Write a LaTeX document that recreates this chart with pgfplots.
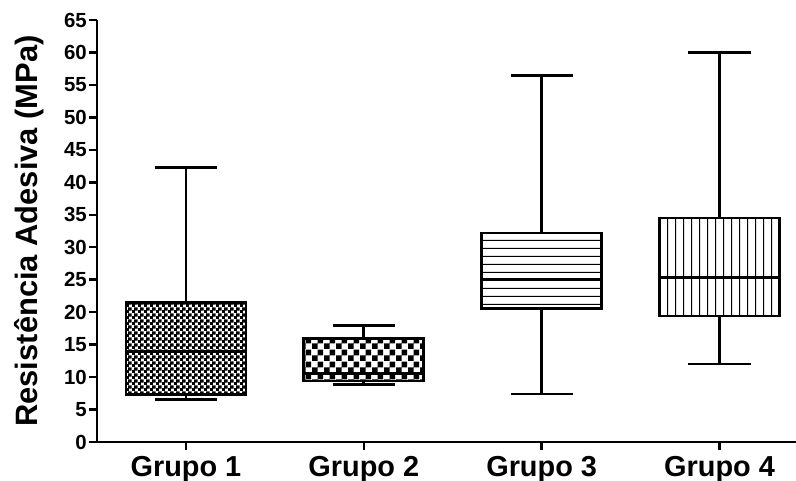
\documentclass[border=0pt]{standalone}
\usepackage{fontspec}
\setmainfont{Liberation Sans}
\usepackage{pgfplots}
\pgfplotsset{compat=1.18}
\usetikzlibrary{patterns}

\pgfdeclarepatternformonly{chkfine}{\pgfpointorigin}{\pgfqpoint{6bp}{6bp}}{\pgfqpoint{6bp}{6bp}}{%
  \pgfpathrectangle{\pgfqpoint{-0.4bp}{-0.4bp}}{\pgfqpoint{3.8bp}{3.8bp}}%
  \pgfpathrectangle{\pgfqpoint{2.6bp}{2.6bp}}{\pgfqpoint{3.8bp}{3.8bp}}%
  \pgfusepath{fill}}
\pgfdeclarepatternformonly{chkcoarse}{\pgfpointorigin}{\pgfqpoint{12bp}{12bp}}{\pgfqpoint{12bp}{12bp}}{%
  \pgfpathrectangle{\pgfpointorigin}{\pgfqpoint{6bp}{6bp}}%
  \pgfpathrectangle{\pgfqpoint{6bp}{6bp}}{\pgfqpoint{6bp}{6bp}}%
  \pgfusepath{fill}}
\pgfdeclarepatternformonly{hlines}{\pgfpointorigin}{\pgfqpoint{20bp}{7.5bp}}{\pgfqpoint{20bp}{7.5bp}}{%
  \pgfpathrectangle{\pgfqpoint{-1bp}{3.2bp}}{\pgfqpoint{22bp}{1.1bp}}%
  \pgfusepath{fill}}
\pgfdeclarepatternformonly{vlines}{\pgfpointorigin}{\pgfqpoint{8bp}{20bp}}{\pgfqpoint{8bp}{20bp}}{%
  \pgfpathrectangle{\pgfqpoint{3.4bp}{-1bp}}{\pgfqpoint{1.2bp}{22bp}}%
  \pgfusepath{fill}}

\pgfplotsset{
  boxln/.style={draw=black, line width=2.8bp, mark=none, line join=miter},
  whisk/.style={draw=black, line width=2.8bp, mark=none, line cap=butt},
}

\begin{document}
\begin{tikzpicture}
\begin{axis}[name=ax,
  scale only axis, width=699bp, height=422bp,
  xmin=0.5, xmax=4.43, ymin=0, ymax=65,
  axis lines=left,
  axis line style={-, line width=2.8bp},
  xtick={1,2,3,4},
  xticklabels={Grupo 1,Grupo 2,Grupo 3,Grupo 4},
  ytick={0,5,...,65},
  tick align=outside,
  major tick length=8bp,
  tick style={line width=2.5bp, black},
  /pgf/number format/assume math mode=true,
  xticklabel style={font=\fontsize{29}{31}\selectfont\bfseries, anchor=north, inner sep=0pt, yshift=-6bp},
  yticklabel style={font=\fontsize{20.5}{22}\selectfont\bfseries, anchor=east, inner sep=0pt, xshift=-2bp},
]
% Grupo 1: lower whisker 6.5, Q1 7.3, median 13.9, Q3 21.5, upper whisker 42.3
\addplot[whisk] coordinates {(1,21.5) (1,42.3)};
\addplot[whisk] coordinates {(1,7.3) (1,6.5)};
\addplot[whisk] coordinates {(0.825,42.3) (1.175,42.3)};
\addplot[whisk] coordinates {(0.825,6.5) (1.175,6.5)};
\addplot[boxln, pattern=chkfine] coordinates {(0.6625,7.3) (1.3375,7.3) (1.3375,21.5) (0.6625,21.5)} -- cycle;
\addplot[whisk] coordinates {(0.6625,13.9) (1.3375,13.9)};
% Grupo 2: 8.9, 9.4, 10.6, 15.9, 18.0
\addplot[whisk] coordinates {(2,15.9) (2,18.0)};
\addplot[whisk] coordinates {(2,9.4) (2,8.9)};
\addplot[whisk] coordinates {(1.825,18.0) (2.175,18.0)};
\addplot[whisk] coordinates {(1.825,8.9) (2.175,8.9)};
\addplot[boxln, pattern=chkcoarse] coordinates {(1.6625,9.4) (2.3375,9.4) (2.3375,15.9) (1.6625,15.9)} -- cycle;
\addplot[whisk] coordinates {(1.6625,10.6) (2.3375,10.6)};
% Grupo 3: 7.4, 20.5, 25.1, 32.2, 56.4
\addplot[whisk] coordinates {(3,32.2) (3,56.4)};
\addplot[whisk] coordinates {(3,20.5) (3,7.4)};
\addplot[whisk] coordinates {(2.825,56.4) (3.175,56.4)};
\addplot[whisk] coordinates {(2.825,7.4) (3.175,7.4)};
\addplot[boxln, pattern=hlines] coordinates {(2.6625,20.5) (3.3375,20.5) (3.3375,32.2) (2.6625,32.2)} -- cycle;
\addplot[whisk, line width=2.2bp] coordinates {(2.6625,25.1) (3.3375,25.1)};
% Grupo 4: 12.0, 19.4, 25.3, 34.5, 60.0
\addplot[whisk] coordinates {(4,34.5) (4,60.0)};
\addplot[whisk] coordinates {(4,19.4) (4,12.0)};
\addplot[whisk] coordinates {(3.825,60.0) (4.175,60.0)};
\addplot[whisk] coordinates {(3.825,12.0) (4.175,12.0)};
\addplot[boxln, pattern=vlines] coordinates {(3.6625,19.4) (4.3375,19.4) (4.3375,34.5) (3.6625,34.5)} -- cycle;
\addplot[whisk] coordinates {(3.6625,25.3) (4.3375,25.3)};
\end{axis}
\node[rotate=90, anchor=base, inner sep=0pt, font=\fontsize{31}{33}\selectfont\bfseries]
  at ([xshift=-60bp]ax.west) {Resistência Adesiva (MPa)};
\pgfresetboundingbox
\path ([xshift=-97bp,yshift=-39bp]ax.south west) rectangle ([yshift=20bp]ax.north east);
\end{tikzpicture}
\end{document}
